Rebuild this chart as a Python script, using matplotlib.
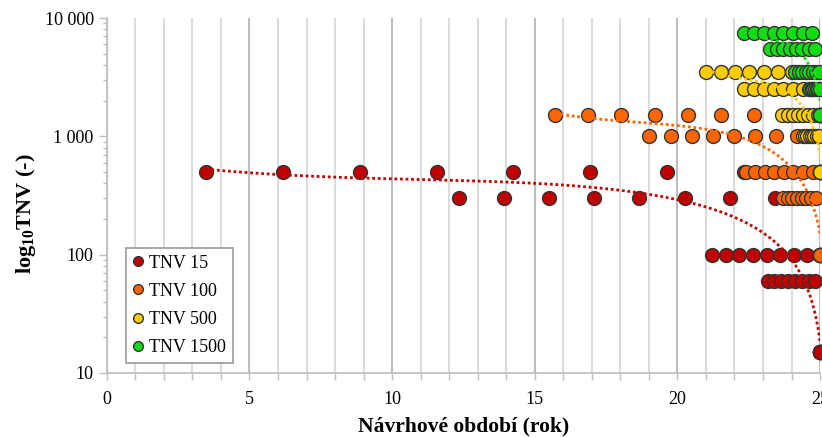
#!/usr/bin/env python3
import matplotlib
matplotlib.use('Agg')
import matplotlib.pyplot as plt
import numpy as np
from matplotlib.ticker import FuncFormatter, LogLocator, MultipleLocator, NullFormatter

# values: design period (years) against TNV
# (the lowest level of every series sits on top of itself at 25 years)
tnv15_x = [3.47, 6.18, 8.88, 11.58, 14.25, 16.95, 19.65, 22.35,
           12.35, 13.93, 15.51, 17.09, 18.67, 20.25, 21.83, 23.41,
           21.23, 21.70, 22.17, 22.65, 23.13, 23.61, 24.08, 24.56,
           23.16, 23.40, 23.64, 23.88, 24.12, 24.36, 24.60, 24.84,
           25.0, 25.0, 25.0, 25.0, 25.0, 25.0, 25.0, 25.0]
tnv15_y = [500] * 8 + [300] * 8 + [100] * 8 + [60] * 8 + [15] * 8

tnv100_x = [15.72, 16.88, 18.04, 19.20, 20.36, 21.52, 22.68, 23.84,
            19.02, 19.76, 20.50, 21.24, 21.98, 22.72, 23.46, 24.20,
            22.39, 22.72, 23.06, 23.39, 23.73, 24.06, 24.40, 24.74,
            23.70, 23.86, 24.03, 24.19, 24.36, 24.52, 24.69, 24.85,
            25.0, 25.0, 25.0, 25.0, 25.0, 25.0, 25.0, 25.0]
tnv100_y = [1500] * 8 + [1000] * 8 + [500] * 8 + [300] * 8 + [100] * 8

tnv500_x = [21.02, 21.52, 22.02, 22.52, 23.02, 23.52, 24.02, 24.52,
            22.35, 22.69, 23.03, 23.37, 23.71, 24.05, 24.39, 24.73,
            23.68, 23.86, 24.04, 24.22, 24.40, 24.58, 24.76, 24.94,
            24.40, 24.48, 24.56, 24.64, 24.72, 24.80, 24.88, 24.96,
            25.0, 25.0, 25.0, 25.0, 25.0, 25.0, 25.0, 25.0]
tnv500_y = [3500] * 8 + [2500] * 8 + [1500] * 8 + [1000] * 8 + [500] * 8

tnv1500_x = [22.35, 22.69, 23.03, 23.37, 23.71, 24.05, 24.39, 24.73,
             23.26, 23.48, 23.71, 23.93, 24.16, 24.38, 24.61, 24.84,
             24.14, 24.26, 24.38, 24.50, 24.62, 24.74, 24.86, 24.98,
             24.60, 24.65, 24.71, 24.77, 24.83, 24.88, 24.94, 24.99,
             25.0, 25.0, 25.0, 25.0, 25.0, 25.0, 25.0, 25.0]
tnv1500_y = [7500] * 8 + [5500] * 8 + [3500] * 8 + [2500] * 8 + [1500] * 8

labels = ['TNV 15', 'TNV 100', 'TNV 500', 'TNV 1500']
colors = ['#c00000', '#ff6600', '#ffcc00', '#11dd11']

yticks = [10, 100, 1000, 10000]


def thousands(v, pos):
    return f'{int(round(v)):,}'.replace(',', ' ')


def main():
    plt.rcParams['font.family'] = ['Liberation Serif', 'DejaVu Serif']
    plt.rcParams['mathtext.fontset'] = 'custom'
    plt.rcParams['mathtext.rm'] = 'Liberation Serif:bold'
    plt.rcParams['mathtext.it'] = 'Liberation Serif:bold'
    plt.rcParams['mathtext.bf'] = 'Liberation Serif:bold'

    fig = plt.figure(figsize=(8.22, 4.37), dpi=100)
    ax = fig.add_axes([0.130, 0.1465, 0.8676, 0.8123])

    series = [(tnv15_x, tnv15_y), (tnv100_x, tnv100_y),
              (tnv500_x, tnv500_y), (tnv1500_x, tnv1500_y)]

    # points first, dotted polynomial trendlines on top
    for (x, y), c, lab in zip(series, colors, labels):
        ax.plot(x, y, ls='none', marker='o', ms=10, mfc=c, mec='#333333',
                mew=1.0, clip_on=False, label=lab, zorder=3)
    for (x, y), c in zip(series, colors):
        coef = np.polyfit(x, y, 3)
        xs = np.linspace(min(x), 25, 300)
        ax.plot(xs, np.polyval(coef, xs), ls=(0, (1, 1)), color=c, lw=2,
                zorder=4)

    ax.set_yscale('log')
    ax.set_ylim(10, 10000)
    ax.set_xlim(0, 25)
    ax.set_yticks(yticks)
    ax.yaxis.set_major_formatter(FuncFormatter(thousands))
    ax.yaxis.set_minor_locator(LogLocator(base=10, subs=np.arange(2, 10)))
    ax.yaxis.set_minor_formatter(NullFormatter())
    ax.xaxis.set_major_locator(MultipleLocator(5))
    ax.xaxis.set_minor_locator(MultipleLocator(1))

    ax.grid(axis='x', which='minor', color='#dcdcdc', lw=1.5)
    ax.grid(axis='x', which='major', color='#bdbdbd', lw=1.5)
    ax.set_axisbelow(True)

    for side in ('top', 'right'):
        ax.spines[side].set_visible(False)
    for side in ('left', 'bottom'):
        ax.spines[side].set_color('#bfbfbf')
        ax.spines[side].set_linewidth(1.2)
    ax.tick_params(which='both', colors='#bfbfbf', labelcolor='black',
                   labelsize=13, width=1.0)
    ax.tick_params(axis='y', which='major', length=6)
    ax.tick_params(axis='y', which='minor', length=3)
    ax.tick_params(axis='x', which='both', length=5, pad=8)

    ax.set_xlabel('Návrhové období (rok)', fontsize=15.5, fontweight='bold',
                  labelpad=6)
    ax.set_ylabel(r'log$_{10}$TNV (-)', fontsize=16, fontweight='bold')
    ax.yaxis.set_label_coords(-0.097, 0.448)

    leg = ax.legend(loc='lower left', bbox_to_anchor=(0.0266, 0.028),
                    borderaxespad=0, fontsize=13, markerscale=0.7,
                    handlelength=0.6, handletextpad=0.3, labelspacing=0.62,
                    borderpad=0.38, fancybox=False, framealpha=1)
    leg.get_frame().set_edgecolor('#999999')
    leg.get_frame().set_linewidth(1.2)

    fig.savefig('out.png', dpi=100)


if __name__ == '__main__':
    main()
